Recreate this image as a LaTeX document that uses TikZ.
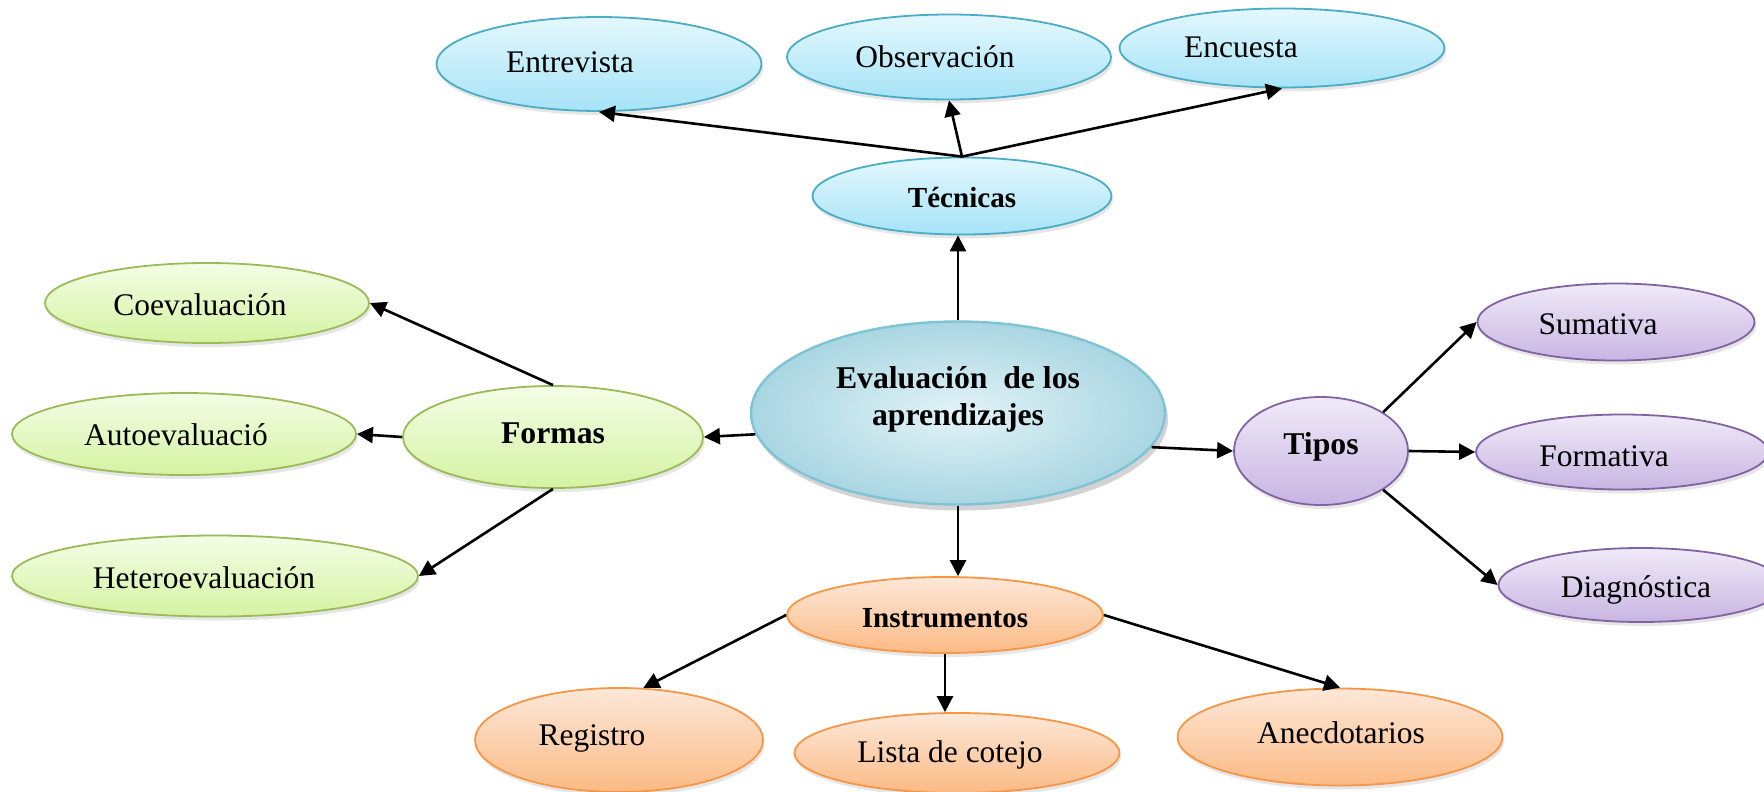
\documentclass[tikz,border=0pt]{standalone}
\usepackage{fontspec}
\setmainfont{Liberation Serif}
\definecolor{tecline}{HTML}{4AACC5}
\definecolor{tectop}{HTML}{E4F8FD}
\definecolor{tecbot}{HTML}{A6E3F7}
\definecolor{mainline}{HTML}{7FC3D6}
\definecolor{maininner}{HTML}{E2F3F7}
\definecolor{mainouter}{HTML}{A9D6E2}
\definecolor{formline}{HTML}{9BBB59}
\definecolor{formtop}{HTML}{F4FDE6}
\definecolor{formbot}{HTML}{D4F3A2}
\definecolor{tipoline}{HTML}{8064A2}
\definecolor{tipotop}{HTML}{F0EAF8}
\definecolor{tipobot}{HTML}{C8B5E2}
\definecolor{instline}{HTML}{F79646}
\definecolor{insttop}{HTML}{FDE8D8}
\definecolor{instbot}{HTML}{FBBA85}
\usetikzlibrary{arrows.meta,shapes.geometric,shadows}

\begin{document}
\begin{tikzpicture}[x=0.5bp,y=-0.5bp,>={Triangle[length=8bp,width=8bp]},
  tecbox/.style={ellipse,draw=tecline,line width=0.9bp,inner sep=0pt,top color=tectop,bottom color=tecbot,drop shadow={opacity=0.2,shadow xshift=0.8bp,shadow yshift=-2bp}},
  mainbox/.style={ellipse,draw=mainline,line width=1.2bp,inner sep=0pt,inner color=maininner,outer color=mainouter,drop shadow={opacity=0.35,shadow xshift=1.5bp,shadow yshift=-3bp}},
  formbox/.style={ellipse,draw=formline,line width=0.9bp,inner sep=0pt,top color=formtop,bottom color=formbot,drop shadow={opacity=0.2,shadow xshift=0.8bp,shadow yshift=-2bp}},
  tipobox/.style={ellipse,draw=tipoline,line width=0.9bp,inner sep=0pt,top color=tipotop,bottom color=tipobot,drop shadow={opacity=0.2,shadow xshift=0.8bp,shadow yshift=-2bp}},
  instbox/.style={ellipse,draw=instline,line width=0.9bp,inner sep=0pt,top color=insttop,bottom color=instbot,drop shadow={opacity=0.2,shadow xshift=0.8bp,shadow yshift=-2bp}},
  txt/.style={font=\fontsize{15.8}{18.5}\selectfont,inner sep=0pt,text height=1.5ex,text depth=.25ex,yshift=-2.3bp},
  btxt/.style={txt,font=\fontsize{15.9}{18.5}\selectfont\bfseries},
  conn/.style={->,line width=1.3bp,black}]
\clip (0,0) rectangle (1764,792);
\node[mainbox,minimum width=207bp,minimum height=91.5bp] (E) at (958,413) {};
\node[tecbox,minimum width=149.5bp,minimum height=38.5bp] (T) at (962,196) {};
\node[tecbox,minimum width=162.5bp,minimum height=47bp] (T1) at (599,64) {};
\node[tecbox,minimum width=162bp,minimum height=42.5bp] (T2) at (949,57) {};
\node[tecbox,minimum width=162.5bp,minimum height=39.5bp] (T3) at (1282,48) {};
\node[formbox,minimum width=150bp,minimum height=51bp] (F) at (553,437) {};
\node[formbox,minimum width=162bp,minimum height=40bp] (F1) at (207,303) {};
\node[formbox,minimum width=172bp,minimum height=41bp] (F2) at (184,434) {};
\node[formbox,minimum width=203bp,minimum height=40.5bp] (F3) at (215,576) {};
\node[tipobox,minimum width=87bp,minimum height=54bp] (P) at (1321,451) {};
\node[tipobox,minimum width=138.5bp,minimum height=38.5bp] (P1) at (1616,322) {};
\node[tipobox,minimum width=146bp,minimum height=37.5bp] (P2) at (1622,452) {};
\node[tipobox,minimum width=142.5bp,minimum height=37bp] (P3) at (1641,585) {};
\node[instbox,minimum width=158bp,minimum height=38bp] (I) at (945,615) {};
\node[instbox,minimum width=144bp,minimum height=52bp] (I1) at (619,740) {};
\node[instbox,minimum width=162.5bp,minimum height=40bp] (I2) at (957,753) {};
\node[instbox,minimum width=162.5bp,minimum height=48.5bp] (I3) at (1340,737) {};
\node[font=\fontsize{15.9}{18.5}\selectfont\bfseries,align=center,inner sep=0pt] (Et) at (958,399) {Evaluación\ \ de los\\aprendizajes};
\node[btxt,font=\fontsize{14.6}{17}\selectfont\bfseries] (Tt) at (962,197) {Técnicas};
\node[txt] (T1t) at (570,62) {Entrevista};
\node[txt] (T2t) at (935,57) {Observación};
\node[txt] (T3t) at (1241,47) {Encuesta};
\node[btxt] (Ft) at (553,433) {Formas};
\node[txt] (F1t) at (200,305) {Coevaluación};
\node[txt] (F2t) at (176,435) {Autoevaluació};
\node[txt] (F3t) at (204,578) {Heteroevaluación};
\node[btxt] (Pt) at (1321,444) {Tipos};
\node[txt] (P1t) at (1598,324) {Sumativa};
\node[txt] (P2t) at (1604,456) {Formativa};
\node[txt] (P3t) at (1636,587) {Diagnóstica};
\node[btxt,font=\fontsize{14.6}{17}\selectfont\bfseries] (It) at (945,617) {Instrumentos};
\node[txt] (I1t) at (592,735) {Registro};
\node[txt] (I2t) at (950,752) {Lista de cotejo};
\node[txt] (I3t) at (1341,733) {Anecdotarios};
\draw[conn] (E.north) -- (E.north |- T.south);
\draw[conn] (T.north) -- (T1.south);
\draw[conn] (T.north) -- (T2.south);
\draw[conn] (T.north) -- (T3.south);
\draw[conn] (E.186) -- (F.east);
\draw[conn] (F.north) -- (F1.east);
\draw[conn] (F.west) -- (F2.east);
\draw[conn] (F.south) -- (F3.east);
\draw[conn] (E.-10) -- (P.west);
\draw[conn] (P.north east) -- (P1.west);
\draw[conn] (P.east) -- (P2.west);
\draw[conn] (P.south east) -- (P3.west);
\draw[conn] (E.south) -- (E.south |- I.north);
\draw[conn] (I.west) -- (I1.65);
\draw[conn] (I.south) -- (I.south |- I2.north);
\draw[conn] (I.east) -- (I3.north);
\end{tikzpicture}
\end{document}
